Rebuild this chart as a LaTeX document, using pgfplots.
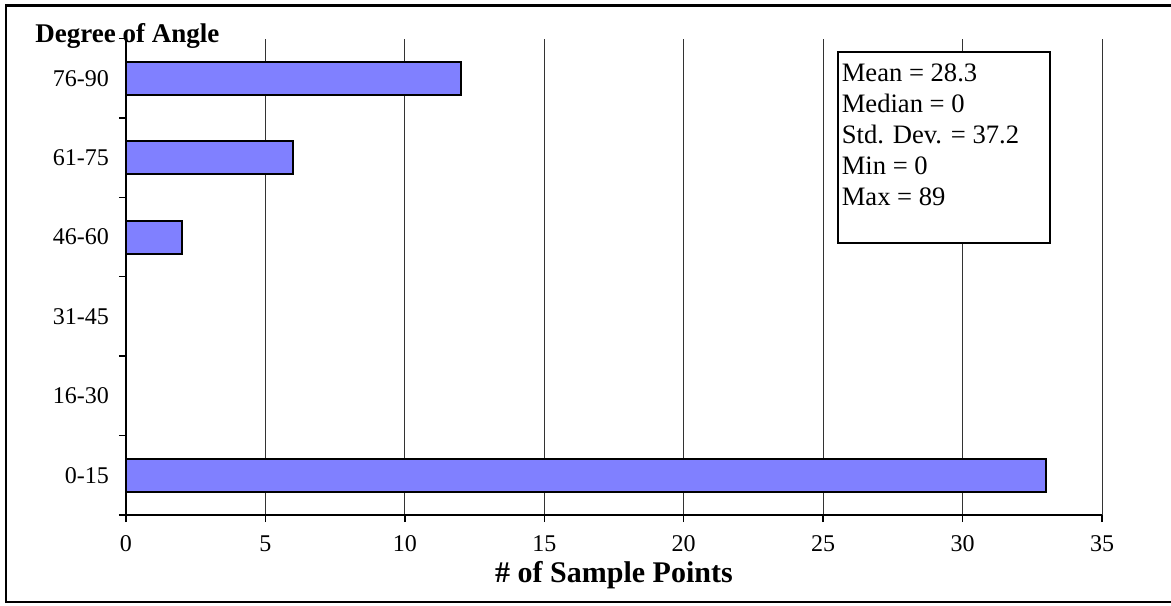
\documentclass[border=0pt]{standalone}
\usepackage{pgfplots}
\pgfplotsset{compat=1.18}
\usepackage{fontspec}
\setmainfont{Liberation Serif}
\definecolor{barblue}{RGB}{128,128,255}

\begin{document}
\begin{tikzpicture}[font=\fontsize{12}{14}\selectfont]
  % 1 px of the reference = 0.5pt, axis origin at (0,0)
  \path[use as bounding box] (-63pt,-45pt) rectangle (522.5pt,257.5pt);
  \draw[line width=1.25pt] (-60pt,-43.5pt) rectangle (523.5pt,254.75pt);
  \begin{axis}[
    scale only axis,
    clip=false,
    width=488pt,
    height=238.25pt,
    xbar,
    bar width=16.5pt,
    xmin=0, xmax=35,
    xtick={0,5,...,35},
    ymin=-0.5, ymax=5.5,
    ytick={-0.5,0.5,...,5.5},
    yticklabels={0-15,16-30,31-45,46-60,61-75,76-90},
    y tick label as interval,
    axis x line=bottom,
    axis y line=left,
    axis line style={-, line width=0.7pt},
    tick align=outside,
    major tick length=3.5pt,
    tick style={black, line width=0.7pt},
    xmajorgrids,
    major grid style={black!80, line width=0.5pt},
    /pgf/number format/assume math mode=true,
    xticklabel style={inner sep=1pt, yshift=-5.8pt},
    yticklabel style={xshift=-1.5pt},
    xlabel={\# of Sample Points},
    xlabel style={at={(axis description cs:0.5,0)}, anchor=base, inner sep=0pt, yshift=-33.5pt, font=\fontsize{15}{17}\selectfont\bfseries},
  ]
    \addplot[fill=barblue, draw=black, line width=1pt, restrict x to domain=0.01:100]
      coordinates {(33,0) (0,1) (0,2) (2,3) (6,4) (12,5)};

    % statistics box
    \draw[fill=white, line width=1pt] (axis cs:25.53,5.33) rectangle (axis cs:33.13,2.925);
    \node[anchor=north west, inner sep=0pt, align=left, font=\fontsize{13.3}{15.5}\selectfont,
          xshift=1.75pt, yshift=-5.7pt] at (axis cs:25.53,5.33)
      {Mean = 28.3\\Median = 0\\Std. Dev. = 37.2\\Min = 0\\Max = 89};

    \node[anchor=base west, inner sep=0pt, font=\fontsize{13.5}{16}\selectfont\bfseries,
          xshift=-45.5pt, yshift=-1.75pt] at (rel axis cs:0,1) {Degree of Angle};
  \end{axis}
\end{tikzpicture}
\end{document}
